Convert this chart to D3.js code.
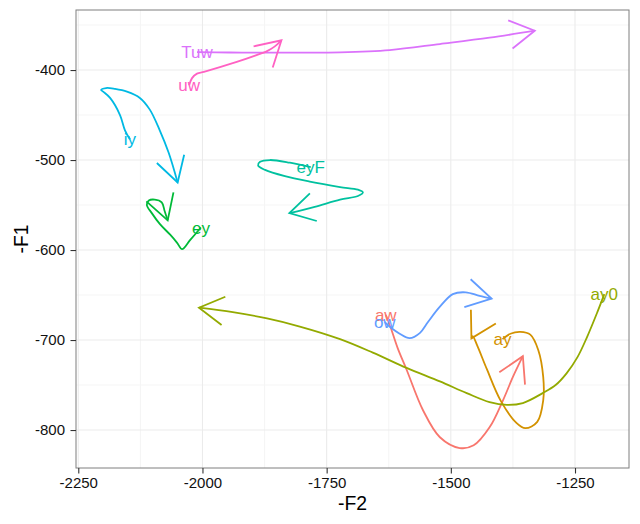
<!DOCTYPE html>
<html>
<head>
<meta charset="utf-8">
<script src="https://cdn.jsdelivr.net/npm/d3@7"></script>
<style>
  body { margin: 0; background: #fff; }
  svg { display: block; font-family: "Liberation Sans", Arial, sans-serif; }
  .tick text { font-size: 15px; fill: #111; }
  .tick line { stroke: #333; }
</style>
</head>
<body>
<svg id="chart"></svg>
<script>
// vowel trajectories, in -F2 / -F1 (Hz)
const vowels = ["aw", "ay", "ay0", "ey", "eyF", "iy", "ow", "Tuw", "uw"];
const colours = ["#F8766D", "#D39200", "#93AA00", "#00BA38", "#00C19F", "#00B9E3", "#619CFF", "#DB72FB", "#FF61C3"];

const aw_F2 = [-1631, -1623, -1607, -1589, -1556, -1522, -1482, -1454, -1422, -1395, -1375, -1355];
const aw_F1 = [-672, -683, -709, -733, -778, -808, -820, -817, -797, -767, -741, -718];

const ay_F2 = [-1396, -1380, -1360, -1340, -1324, -1314, -1314, -1326, -1350, -1368, -1400, -1427, -1447, -1456, -1458.5];
const ay_F1 = [-699, -693, -691, -694, -711, -741, -767, -791, -798, -792, -767, -733, -706, -695.6, -698.1];

const ay0_F2 = [-1191, -1205, -1226, -1245, -1267, -1289, -1315, -1355, -1387, -1422, -1468, -1522, -1589, -1657, -1723, -1804, -1870, -1939, -2007];
const ay0_F1 = [-649, -669, -697, -719, -737, -750, -759, -770, -772, -769, -759, -746, -731, -714, -699, -685, -676, -669, -664];

const ey_F2 = [-2003, -2025, -2041, -2051, -2065, -2086, -2102, -2112, -2108, -2096, -2082, -2076, -2070];
const ey_F1 = [-575, -589, -599, -592, -583, -571, -559, -550, -545, -544, -547, -557, -567];

const eyF_F2 = [-1782, -1824, -1864, -1884, -1888, -1874, -1834, -1784, -1723, -1687, -1677, -1687, -1723, -1774, -1825];
const eyF_F1 = [-508, -503, -500, -502, -506, -511, -518, -524, -530, -533, -536, -540, -544, -552, -559];

const iy_F2 = [-2146, -2156, -2166, -2186, -2200, -2204, -2194, -2176, -2152, -2126, -2106, -2086, -2068, -2050];
const iy_F1 = [-477, -467, -450, -431, -424, -422, -420, -421, -424, -431, -444, -467, -492, -525];

const ow_F2 = [-1633, -1619, -1603, -1583, -1562, -1546, -1522, -1496, -1470, -1442, -1418];
const ow_F1 = [-680, -687, -693, -698, -692, -680, -663, -649, -647, -651, -654];

const Tuw_F2 = [-2011, -1945, -1884, -1804, -1723, -1623, -1522, -1422, -1331];
const Tuw_F1 = [-380, -380.5, -380.7, -380.6, -380.3, -377.8, -371.1, -364.1, -356.3];

const uw_F2 = [-2027, -2021, -2011, -1997, -1931, -1894, -1870, -1855, -1841];
const uw_F1 = [-417, -409, -404, -402, -391, -384, -379, -374, -367];

const xTicks = [-2250, -2000, -1750, -1500, -1250];
const yTicks = [-800, -700, -600, -500, -400];
const xMinor = [-2125, -1875, -1625, -1375];
const yMinor = [-750, -650, -550, -450, -350];

const series = [
  [aw_F2, aw_F1], [ay_F2, ay_F1], [ay0_F2, ay0_F1], [ey_F2, ey_F1], [eyF_F2, eyF_F1],
  [iy_F2, iy_F1], [ow_F2, ow_F1], [Tuw_F2, Tuw_F1], [uw_F2, uw_F1]
].map(([f2, f1], i) => ({
  vowel: vowels[i],
  colour: colours[i],
  points: f2.map((v, j) => [v, f1[j]])
}));

const width = 640;
const height = 524;
const margin = { top: 10, right: 11, bottom: 56, left: 76 };

const svg = d3.select("#chart").attr("width", width).attr("height", height);

const x = d3.scaleLinear()
  .domain([-2254.6, -1141.3])
  .range([margin.left, width - margin.right]);
const y = d3.scaleLinear()
  .domain([-842.2, -333.3])
  .range([height - margin.bottom, margin.top]);

const grid = svg.append("g");
grid.selectAll(".xminor").data(xMinor).join("line")
  .attr("x1", d => x(d)).attr("x2", d => x(d))
  .attr("y1", margin.top).attr("y2", height - margin.bottom)
  .attr("stroke", "#f5f5f5").attr("stroke-width", 1.1);
grid.selectAll(".yminor").data(yMinor).join("line")
  .attr("y1", d => y(d)).attr("y2", d => y(d))
  .attr("x1", margin.left).attr("x2", width - margin.right)
  .attr("stroke", "#f5f5f5").attr("stroke-width", 1.1);
grid.selectAll(".xmajor").data(xTicks).join("line")
  .attr("x1", d => x(d)).attr("x2", d => x(d))
  .attr("y1", margin.top).attr("y2", height - margin.bottom)
  .attr("stroke", "#ebebeb").attr("stroke-width", 1.1);
grid.selectAll(".ymajor").data(yTicks).join("line")
  .attr("y1", d => y(d)).attr("y2", d => y(d))
  .attr("x1", margin.left).attr("x2", width - margin.right)
  .attr("stroke", "#ebebeb").attr("stroke-width", 1.1);

const line = d3.line()
  .x(d => x(d[0]))
  .y(d => y(d[1]))
  .curve(d3.curveCatmullRom.alpha(0.5));

// open arrow head, like grid::arrow(angle = 30)
const arrowHead = (pts) => {
  const [a, b] = pts.slice(-2);
  const x0 = x(a[0]), y0 = y(a[1]), x1 = x(b[0]), y1 = y(b[1]);
  const ang = Math.atan2(y0 - y1, x0 - x1);
  const len = 28.5, spread = Math.PI / 6;
  const p1 = [x1 + len * Math.cos(ang + spread), y1 + len * Math.sin(ang + spread)];
  const p2 = [x1 + len * Math.cos(ang - spread), y1 + len * Math.sin(ang - spread)];
  return `M${p1[0]},${p1[1]}L${x1},${y1}L${p2[0]},${p2[1]}`;
};

svg.append("clipPath").attr("id", "panel-clip").append("rect")
  .attr("x", margin.left).attr("y", margin.top)
  .attr("width", width - margin.left - margin.right)
  .attr("height", height - margin.top - margin.bottom);
const paths = svg.append("g")
  .attr("clip-path", "url(#panel-clip)");

const traj = paths.selectAll("g").data(series).join("g");
traj.append("path")
  .attr("d", d => line(d.points))
  .attr("fill", "none")
  .attr("stroke", d => d.colour)
  .attr("stroke-width", 1.8);
traj.append("path")
  .attr("d", d => arrowHead(d.points))
  .attr("fill", "none")
  .attr("stroke", d => d.colour)
  .attr("stroke-width", 1.8);

svg.append("g").selectAll("text").data(series).join("text")
  .attr("x", d => x(d.points[0][0]))
  .attr("y", d => y(d.points[0][1]))
  .attr("dy", "0.36em")
  .attr("text-anchor", "middle")
  .attr("font-size", 17)
  .attr("fill", d => d.colour)
  .text(d => d.vowel);

svg.append("rect")
  .attr("x", margin.left).attr("y", margin.top)
  .attr("width", width - margin.left - margin.right)
  .attr("height", height - margin.top - margin.bottom)
  .attr("fill", "none")
  .attr("stroke", "#7f7f7f")
  .attr("stroke-width", 1);

// plain hyphen minus, as R prints it
const fmt = d => String(d);

svg.append("g")
  .attr("transform", `translate(0,${height - margin.bottom})`)
  .call(d3.axisBottom(x).tickValues(xTicks).tickSize(5.5).tickPadding(4).tickFormat(fmt))
  .call(g => g.select(".domain").remove())
  .call(g => g.selectAll(".tick line").attr("stroke-width", 1.1));

svg.append("g")
  .attr("transform", `translate(${margin.left},0)`)
  .call(d3.axisLeft(y).tickValues(yTicks).tickSize(5.5).tickPadding(5.5).tickFormat(fmt))
  .call(g => g.select(".domain").remove())
  .call(g => g.selectAll(".tick line").attr("stroke-width", 1.1));

svg.selectAll("g[font-family]").attr("font-family", null).attr("font-size", null);

svg.append("text")
  .attr("x", (margin.left + width - margin.right) / 2)
  .attr("y", 510)
  .attr("text-anchor", "middle")
  .attr("font-size", 19.4)
  .attr("fill", "#000")
  .text("-F2");

svg.append("text")
  .attr("transform", `translate(28,${(margin.top + height - margin.bottom) / 2}) rotate(-90)`)
  .attr("text-anchor", "middle")
  .attr("font-size", 19.4)
  .attr("fill", "#000")
  .text("-F1");
</script>
</body>
</html>
